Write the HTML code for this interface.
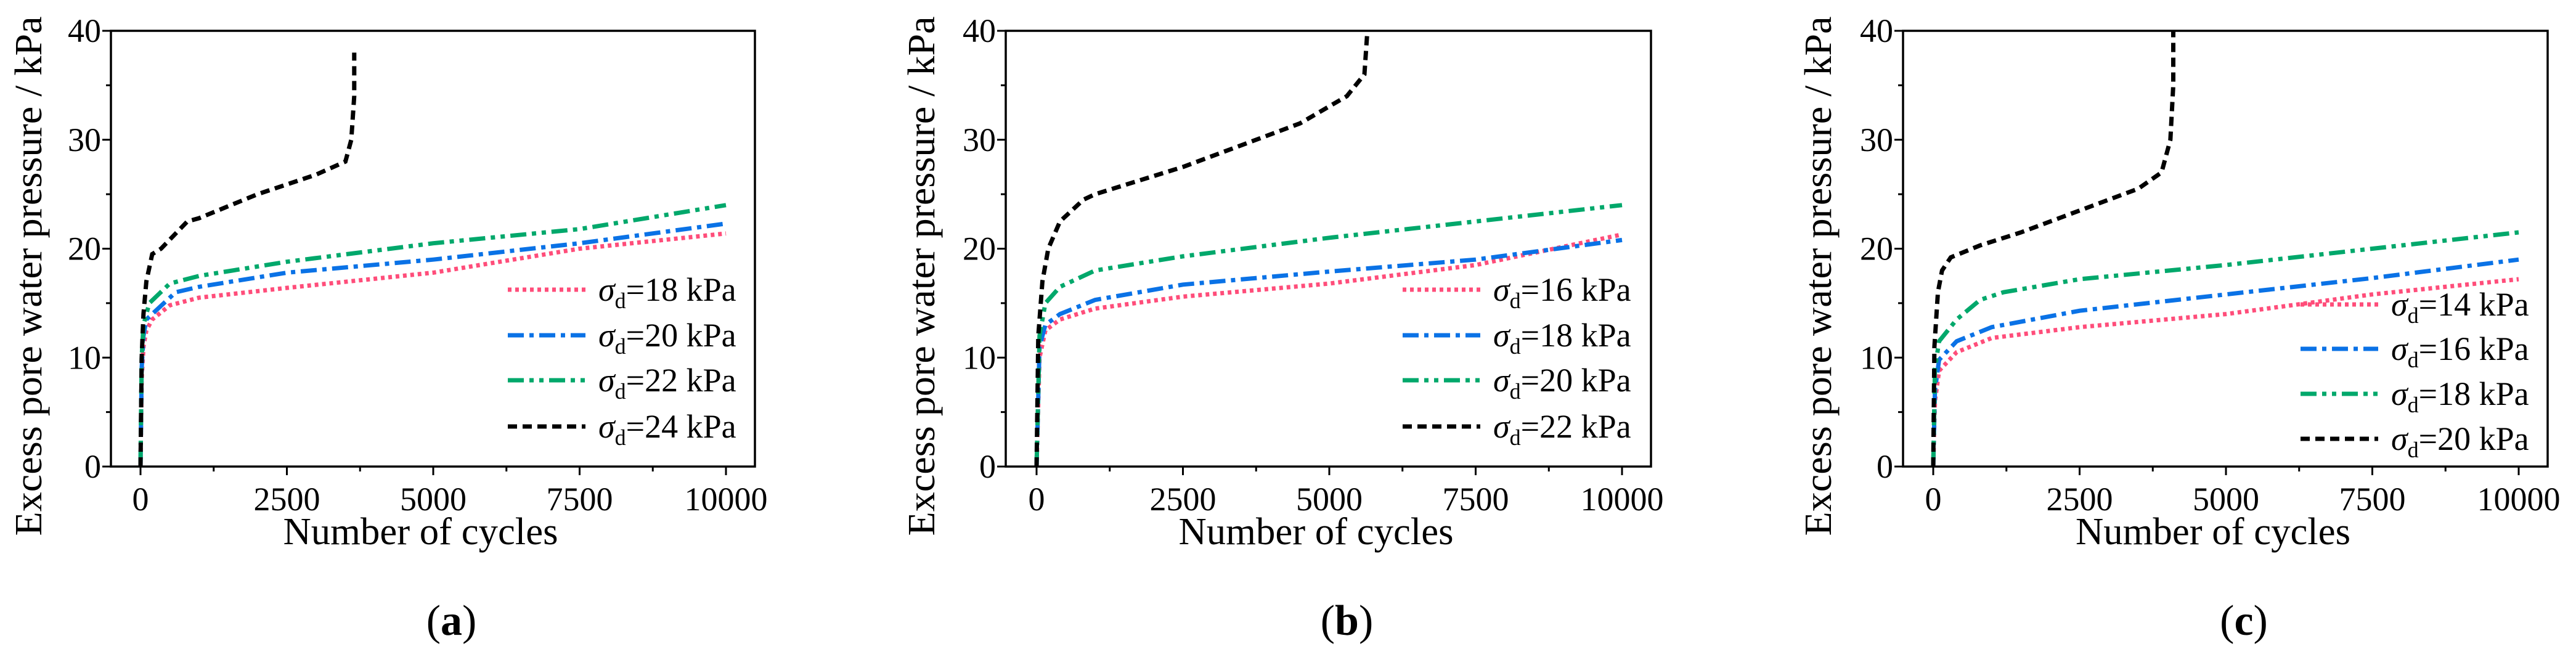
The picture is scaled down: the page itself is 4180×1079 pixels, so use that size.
<!DOCTYPE html>
<html><head><meta charset="utf-8"><style>
html,body{margin:0;padding:0;background:#fff;}
svg{display:block;}
text{font-family:"Liberation Serif",serif;fill:#000;}
</style></head>
<body>
<svg id="fig" width="4180" height="1079" viewBox="0 0 4180 1079" xmlns="http://www.w3.org/2000/svg"></svg>
<script>
// ---- data ----
const xTicks = [0, 2500, 5000, 7500, 10000];
const yTicks = [0, 10, 20, 30, 40];
const panelLetters = ["a", "b", "c"];
const legendA = ["18", "20", "22", "24"];
const legendB = ["16", "18", "20", "22"];
const legendC = ["14", "16", "18", "20"];
// panel a
const aPinkX = [0,20,50,100,200,500,1000,2500,5000,7500,10000];
const aPinkY = [0,8,11,12.5,13.5,14.8,15.5,16.4,17.8,20,21.4];
const aBlueX = [0,20,50,100,300,600,1000,2500,5000,7500,10000];
const aBlueY = [0,9,12,13.5,14.5,16,16.5,17.8,19,20.5,22.3];
const aGreenX = [0,20,50,150,500,1000,2500,5000,7500,10000];
const aGreenY = [0,10,13,15,16.8,17.5,18.8,20.5,21.8,24];
const aBlackX = [0,20,50,100,200,350,800,1000,2000,3000,3500,3600,3650,3650];
const aBlackY = [0,10,14,17,19.5,20,22.5,22.8,25,26.8,28,30,34,38];
// panel b
const bPinkX = [0,50,150,400,1000,2500,5000,7500,10000];
const bPinkY = [0,10,12.5,13.5,14.5,15.6,16.8,18.5,21.3];
const bBlueX = [0,50,150,400,1000,2500,5000,7500,10000];
const bBlueY = [0,11,13,14,15.3,16.7,17.9,19,20.8];
const bGreenX = [0,50,150,400,1000,2500,5000,7500,10000];
const bGreenY = [0,12,15,16.5,18,19.3,21,22.5,24];
const bBlackX = [0,30,100,200,400,800,1000,2500,3500,4500,5300,5600,5650];
const bBlackY = [0,12,17,20,22.5,24.5,25,27.5,29.5,31.5,34,36,40];
// panel c
const cPinkX = [0,30,100,400,1000,2500,5000,7500,10000];
const cPinkY = [0,6,8.8,10.5,11.8,12.8,14,15.8,17.2];
const cBlueX = [0,30,100,400,1000,2500,5000,7500,10000];
const cBlueY = [0,7,9.8,11.5,12.8,14.3,15.8,17.3,19];
const cGreenX = [0,30,100,400,800,1200,2500,5000,7500,10000];
const cGreenY = [0,9,11.5,13.5,15.3,16,17.2,18.5,20,21.5];
const cBlackX = [0,20,80,150,300,800,1500,2500,3500,3900,4050,4100,4100];
const cBlackY = [0,11,16,18,19.2,20.3,21.5,23.5,25.5,27,30,35,40];

const NS = "http://www.w3.org/2000/svg";
const svg = document.getElementById("fig");
function mk(tag, attrs, parent) {
  const e = document.createElementNS(NS, tag);
  for (const k in attrs) e.setAttribute(k, attrs[k]);
  (parent || svg).appendChild(e);
  return e;
}
const styles = [
  {color:"#ff4d7a", dash:"6 6"},
  {color:"#0a72e6", dash:"26 9 7 9"},
  {color:"#00a86b", dash:"26 9 7 9 7 9"},
  {color:"#000000", dash:"15 9"}
];
const panels = [
  {L:180,R:1225,x0:228,x1:1178,legX:824,legY:[470,544,617,692],leg:legendA,
   series:[[aPinkX,aPinkY],[aBlueX,aBlueY],[aGreenX,aGreenY],[aBlackX,aBlackY]],titleX:45},
  {L:1632,R:2679,x0:1682,x1:2632,legX:2276,legY:[470,544,617,692],leg:legendB,
   series:[[bPinkX,bPinkY],[bBlueX,bBlueY],[bGreenX,bGreenY],[bBlackX,bBlackY]],titleX:1494},
  {L:3088,R:4134,x0:3137,x1:4087,legX:3733,legY:[494,566,639,712],leg:legendC,
   series:[[cPinkX,cPinkY],[cBlueX,cBlueY],[cGreenX,cGreenY],[cBlackX,cBlackY]],titleX:2949}
];
const T = 50, B = 757;
panels.forEach((p, pi) => {
  const g = mk("g", {});
  
  
  const xs = v => p.x0 + (p.x1 - p.x0) * v / 10000;
  const ys = v => B - (B - T) * v / 40;
  p.series.forEach((s, si) => {
    const d = s[0].map((x, i) => (i ? "L" : "M") + xs(x).toFixed(1) + " " + ys(s[1][i]).toFixed(1)).join(" ");
    const path = mk("path", {d:d, fill:"none", stroke:styles[si].color, "stroke-width":7, "stroke-dasharray":styles[si].dash}, g);
    
    
  });
  const fr = mk("rect", {x:p.L, y:T, width:p.R - p.L, height:B - T, fill:"none", stroke:"#000", "stroke-width":3.5}, g);
  
  
  yTicks.forEach(v => {
    mk("line", {x1:p.L, x2:p.L - 14, y1:ys(v), y2:ys(v), stroke:"#000", "stroke-width":3}, g);
    const t = mk("text", {x:p.L - 16, y:ys(v) + 18, "text-anchor":"end", "font-size":54}, g);
    t.textContent = v;
    
    
  });
  for (let v = 5; v < 40; v += 10) mk("line", {x1:p.L, x2:p.L - 8, y1:ys(v), y2:ys(v), stroke:"#000", "stroke-width":3}, g);
  xTicks.forEach(v => {
    mk("line", {x1:xs(v), x2:xs(v), y1:B, y2:B + 14, stroke:"#000", "stroke-width":3}, g);
    const t = mk("text", {x:xs(v), y:828, "text-anchor":"middle", "font-size":54}, g);
    t.textContent = v;
    
    
  });
  for (let v = 1250; v < 10000; v += 2500) mk("line", {x1:xs(v), x2:xs(v), y1:B, y2:B + 8, stroke:"#000", "stroke-width":3}, g);
  const xt = mk("text", {x:(p.L + p.R) / 2 - 20, y:883, "text-anchor":"middle", "font-size":62, textLength:446, lengthAdjust:"spacingAndGlyphs"}, g);
  xt.textContent = "Number of cycles";
  
  
  const yt = mk("text", {x:0, y:0, "text-anchor":"middle", "font-size":62, textLength:843, lengthAdjust:"spacingAndGlyphs", transform:"translate(" + (p.titleX + 22) + "," + 448 + ") rotate(-90)"}, g);
  yt.textContent = "Excess pore water pressure / kPa";
  
  
  p.leg.forEach((lab, li) => {
    const ly = p.legY[li];
    const ln = mk("line", {x1:p.legX, x2:p.legX + 126, y1:ly, y2:ly, stroke:styles[li].color, "stroke-width":7, "stroke-dasharray":styles[li].dash}, g);
    
    
    const t = mk("text", {x:p.legX + 147, y:ly + 18, "font-size":54}, g);
    
    
    const s1 = mk("tspan", {"font-style":"italic"}, t); s1.textContent = "σ";
    const s2 = mk("tspan", {"font-size":36, dy:12}, t); s2.textContent = "d";
    const s3 = mk("tspan", {dy:-12}, t); s3.textContent = "=" + lab + " kPa";
  });
  const pl = mk("text", {x:(p.L + p.R) / 2 + 30, y:1030, "text-anchor":"middle", "font-size":70}, g);
  
  
  const a1 = mk("tspan", {}, pl); a1.textContent = "(";
  const a2 = mk("tspan", {"font-weight":"bold"}, pl); a2.textContent = panelLetters[pi];
  const a3 = mk("tspan", {}, pl); a3.textContent = ")";
});
</script>
</body></html>
